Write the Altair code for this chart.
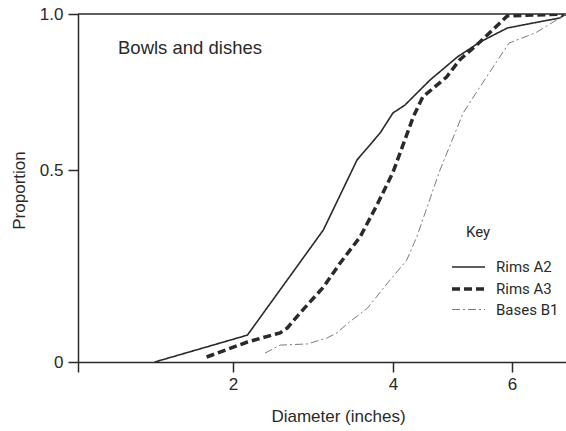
import altair as alt
import pandas as pd

series_names = ["Rims A2", "Rims A3", "Bases B1"]

a2_diam = [0.99, 2.18, 3.13, 3.55, 3.84, 4.0, 4.2, 4.62, 5.08, 5.46, 5.92, 6.35, 6.8, 6.91]
a2_prop = [0.0, 0.07, 0.344, 0.532, 0.619, 0.683, 0.708, 0.788, 0.862, 0.91, 0.955, 0.971, 0.987, 1.0]

a3_diam = [1.66, 2.18, 2.59, 2.68, 2.84, 3.13, 3.34, 3.59, 3.8, 4.0, 4.34, 4.5, 4.9, 5.12, 5.46, 5.68, 5.92, 6.91]
a3_prop = [0.013, 0.052, 0.076, 0.089, 0.128, 0.195, 0.258, 0.326, 0.409, 0.494, 0.67, 0.734, 0.798, 0.853, 0.91, 0.95, 0.994, 1.0]

b1_diam = [2.4, 2.59, 2.93, 3.18, 3.3, 3.43, 3.68, 3.93, 4.23, 4.4, 4.79, 5.18, 5.46, 5.95, 6.4, 6.8, 6.91]
b1_prop = [0.023, 0.044, 0.047, 0.063, 0.076, 0.10, 0.14, 0.205, 0.265, 0.326, 0.5, 0.683, 0.766, 0.907, 0.94, 0.987, 1.0]

x_ticks = [0, 2, 4, 6]
y_ticks = [0, 0.5, 1.0]
panel_label = ["Bowls and dishes"]
key_title = ["Key"]

rows = []
for name, xs, ys in zip(series_names, [a2_diam, a3_diam, b1_diam], [a2_prop, a3_prop, b1_prop]):
    for i, (x, y) in enumerate(zip(xs, ys)):
        rows.append({"series": name, "diam": x, "prop": y, "order": i})
df = pd.DataFrame(rows)

FONT = "Liberation Sans"
NARROW = "Roboto"
INK = "#2a2a2a"

W, H = 488, 348
x_scale = alt.Scale(domain=[0, 2, 4, 6, 7], range=[0, 155, 315, 434, 493.5])
y_scale = alt.Scale(domain=[0, 0.5, 1], range=[348, 156, 0])

lines = alt.Chart(df).mark_line(clip=True).encode(
    x=alt.X("diam:Q", scale=x_scale,
            axis=alt.Axis(values=x_ticks, grid=False,
                          labelExpr="datum.value == 0 ? '' : datum.label",
                          title="Diameter (inches)", titleX=260, titleY=54,
                          titleBaseline="middle", titleAlign="center",
                          tickSize=10, labelPadding=4)),
    y=alt.Y("prop:Q", scale=y_scale,
            axis=alt.Axis(values=y_ticks, grid=False,
                          labelExpr="datum.value == 1 ? '1.0' : (datum.value == 0.5 ? '0.5' : '0')",
                          title="Proportion", titleX=-59, titleY=176,
                          titleBaseline="middle", titleAlign="center", titleAngle=-90,
                          tickSize=10, labelPadding=5)),
    color=alt.Color("series:N",
                    scale=alt.Scale(domain=series_names, range=[INK, INK, "#7a7a7a"]),
                    legend=alt.Legend(title=None, orient="none", legendX=378.5, legendY=242,
                                      symbolType="M-1.65,0H1.65", symbolSize=400,
                                      labelFont=NARROW, labelFontSize=15, labelColor=INK,
                                      labelOffset=15.5, rowPadding=2)),
    strokeDash=alt.StrokeDash("series:N",
                              scale=alt.Scale(domain=series_names,
                                              range=[[1, 0], [8, 4], [8, 3, 2, 3]])),
    strokeWidth=alt.StrokeWidth("series:N",
                                scale=alt.Scale(type="ordinal", domain=series_names,
                                                range=[1.6, 3.5, 1.0])),
    order="order:Q",
)

frame_top = alt.Chart(pd.DataFrame({"k": [0]})).mark_rule(color=INK, strokeWidth=1.5).encode(
    x=alt.value(0), x2=alt.value(W), y=alt.value(0)
)

label_df = pd.DataFrame({"text": panel_label})
panel_text = alt.Chart(label_df).mark_text(
    align="left", baseline="middle", font=FONT, fontSize=18.5, color=INK
).encode(text="text:N", x=alt.value(40), y=alt.value(34))

key_df = pd.DataFrame({"text": key_title})
key_text = alt.Chart(key_df).mark_text(
    align="center", baseline="middle", font=NARROW, fontSize=15, color=INK
).encode(text="text:N", x=alt.value(400), y=alt.value(218))

chart = alt.layer(frame_top, lines, panel_text, key_text).properties(
    width=W, height=H,
    autosize=alt.AutoSizeParams(type="none"),
    padding={"left": 78, "top": 14, "right": 0, "bottom": 69},
).configure_view(
    stroke=None
).configure_axis(
    domainColor=INK, domainWidth=1.5, tickColor=INK, tickWidth=1.5,
    labelFont=FONT, labelFontSize=17, labelColor=INK,
    titleFont=FONT, titleFontSize=17, titleColor=INK, titleFontWeight="normal",
)

chart.save("out.html", embed_options={"renderer": "svg", "actions": False})
